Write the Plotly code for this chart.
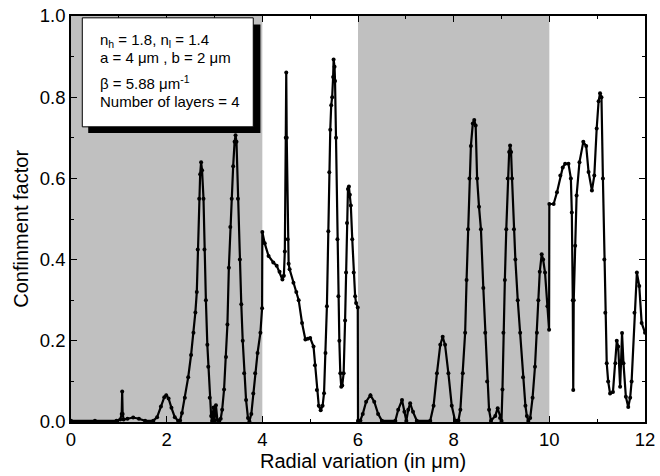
import plotly.graph_objects as go

# ---- data ----
radial_um = [
    0.00, 0.50, 0.95, 1.03, 1.06, 1.07, 1.08, 1.10, 1.18, 1.30, 1.42, 1.55, 1.72, 1.80, 1.88, 1.95,
    1.99, 2.04, 2.10, 2.17, 2.24, 2.28, 2.32, 2.38, 2.45, 2.51, 2.56, 2.60, 2.63, 2.65, 2.68, 2.70,
    2.72, 2.74, 2.77, 2.79, 2.82, 2.85, 2.87, 2.90, 2.93, 2.95, 2.98, 3.00, 3.03, 3.06, 3.10, 3.13,
    3.16, 3.20, 3.24, 3.27, 3.30, 3.33, 3.36, 3.39, 3.42, 3.44, 3.46, 3.49, 3.53, 3.56, 3.59, 3.62,
    3.66, 3.70, 3.73, 3.77, 3.81, 3.85, 3.90, 3.96, 3.995,
    4.00, 4.05, 4.13, 4.23, 4.30, 4.36, 4.42, 4.45, 4.47, 4.49, 4.50, 4.51, 4.53, 4.55, 4.57, 4.65,
    4.71, 4.76, 4.83, 4.90, 4.95, 5.00, 5.07, 5.10, 5.14, 5.18, 5.22, 5.26, 5.29, 5.32, 5.35, 5.38,
    5.40, 5.42, 5.44, 5.46, 5.48, 5.49, 5.51, 5.52, 5.54, 5.57, 5.59, 5.61, 5.63, 5.65, 5.67, 5.70,
    5.73, 5.75, 5.77, 5.79, 5.81, 5.83, 5.85, 5.88, 5.91, 5.94, 5.96, 5.995,
    6.00, 6.05, 6.10, 6.17, 6.26, 6.34, 6.42, 6.50, 6.78, 6.84, 6.92, 6.97, 7.01, 7.05, 7.09, 7.15,
    7.23, 7.51, 7.58, 7.65, 7.72, 7.77, 7.82, 7.89, 7.96, 8.03, 8.07, 8.10, 8.14, 8.19, 8.24, 8.27,
    8.30, 8.33, 8.36, 8.40, 8.43, 8.46, 8.49, 8.53, 8.57, 8.62, 8.66, 8.70, 8.74, 8.78, 8.87, 8.92,
    8.97, 9.00, 9.02, 9.04, 9.07, 9.10, 9.13, 9.16, 9.18, 9.20, 9.22, 9.26, 9.29, 9.34, 9.39, 9.45,
    9.50, 9.53, 9.56, 9.60, 9.65, 9.70, 9.74, 9.77, 9.80, 9.84, 9.87, 9.91, 9.96, 9.995,
    10.00, 10.09, 10.16, 10.23, 10.28, 10.33, 10.40, 10.45, 10.47, 10.49, 10.50, 10.51, 10.54, 10.57,
    10.63, 10.71, 10.77, 10.82, 10.89, 10.94, 10.99, 11.03, 11.06, 11.09, 11.12, 11.15, 11.17, 11.20,
    11.23, 11.27, 11.33, 11.38, 11.41, 11.44, 11.48, 11.50, 11.52, 11.55, 11.60, 11.65, 11.69, 11.72,
    11.78, 11.83, 11.88, 11.93, 12.00,
]
confinement = [
    0.003, 0.003, 0.003, 0.006, 0.020, 0.075, 0.020, 0.006, 0.008, 0.011, 0.008, 0.003, 0.003, 0.012, 0.038, 0.061,
    0.066, 0.058, 0.035, 0.012, 0.003, 0.004, 0.022, 0.060, 0.110, 0.165, 0.220, 0.270, 0.320, 0.425, 0.550, 0.610,
    0.640, 0.620, 0.550, 0.425, 0.300, 0.190, 0.136, 0.060, 0.015, 0.003, 0.036, 0.004, 0.041, 0.005, 0.003, 0.008,
    0.030, 0.080, 0.160, 0.240, 0.380, 0.480, 0.550, 0.630, 0.690, 0.706, 0.690, 0.550, 0.400, 0.290, 0.200, 0.120,
    0.054, 0.010, 0.002, 0.020, 0.070, 0.120, 0.170, 0.220, 0.280,
    0.468, 0.440, 0.409, 0.393, 0.385, 0.370, 0.351, 0.360, 0.420, 0.700, 0.861, 0.700, 0.450, 0.390, 0.376, 0.343,
    0.320, 0.300, 0.244, 0.203, 0.205, 0.207, 0.186, 0.140, 0.079, 0.040, 0.029, 0.040, 0.071, 0.170, 0.285, 0.470,
    0.615, 0.720, 0.780, 0.800, 0.850, 0.893, 0.875, 0.840, 0.700, 0.450, 0.310, 0.200, 0.120, 0.087, 0.090, 0.120,
    0.250, 0.368, 0.490, 0.574, 0.580, 0.560, 0.533, 0.450, 0.368, 0.310, 0.293, 0.282,
    0.003, 0.004, 0.020, 0.050, 0.066, 0.050, 0.020, 0.003, 0.003, 0.030, 0.054, 0.025, 0.003, 0.030, 0.046, 0.025,
    0.003, 0.003, 0.040, 0.120, 0.190, 0.210, 0.190, 0.120, 0.040, 0.003, 0.003, 0.004, 0.030, 0.120, 0.220, 0.350,
    0.475, 0.600, 0.680, 0.735, 0.744, 0.730, 0.600, 0.530, 0.475, 0.330, 0.220, 0.100, 0.030, 0.003, 0.015, 0.034,
    0.010, 0.003, 0.080, 0.220, 0.350, 0.475, 0.600, 0.665, 0.681, 0.665, 0.600, 0.475, 0.400, 0.300, 0.220, 0.110,
    0.040, 0.015, 0.003, 0.010, 0.060, 0.136, 0.220, 0.300, 0.370, 0.413, 0.400, 0.368, 0.285, 0.227,
    0.537, 0.537, 0.566, 0.607, 0.627, 0.636, 0.636, 0.600, 0.516, 0.300, 0.079, 0.300, 0.434, 0.558,
    0.640, 0.690, 0.680, 0.616, 0.570, 0.607, 0.723, 0.790, 0.810, 0.800, 0.600, 0.400, 0.269, 0.145,
    0.100, 0.070, 0.074, 0.145, 0.200, 0.186, 0.087, 0.150, 0.219, 0.145, 0.062, 0.037, 0.060, 0.100,
    0.269, 0.368, 0.335, 0.244, 0.220,
]

# shaded high-index layers (x ranges, in micrometres)
band_starts = [0, 6]
band_ends = [4, 10]

x_ticks = [0, 2, 4, 6, 8, 10, 12]
y_ticks = [0.0, 0.2, 0.4, 0.6, 0.8, 1.0]

x_title = "Radial variation (in μm)"
y_title = "Confinment factor"

legend_lines = [
    "n<sub>h</sub> = 1.8, n<sub>l</sub> = 1.4",
    "a = 4 μm , b = 2 μm",
    "β = 5.88 μm<sup>-1</sup>",
    "Number of layers = 4",
]

FONT = "Liberation Sans, Arial, sans-serif"

fig = go.Figure()

fig.add_trace(go.Scatter(
    x=radial_um, y=confinement, mode="lines+markers",
    line=dict(color="black", width=2.2),
    marker=dict(color="black", size=4, symbol="circle"),
    showlegend=False, hoverinfo="x+y",
))

shapes = []
for a, b in zip(band_starts, band_ends):
    shapes.append(dict(type="rect", xref="x", yref="y", x0=a, x1=b, y0=0, y1=1,
                       fillcolor="#c0c0c0", line=dict(width=0), layer="below"))
# legend box: black shadow then white box
shapes.append(dict(type="rect", xref="x", yref="y", x0=0.36, x1=3.96, y0=0.712, y1=0.979,
                   fillcolor="black", line=dict(width=0), layer="above"))
shapes.append(dict(type="rect", xref="x", yref="y", x0=0.236, x1=3.81, y0=0.727, y1=0.9955,
                   fillcolor="white", line=dict(color="black", width=1), layer="above"))

line_y = [0.940, 0.898, 0.836, 0.789]
annotations = []
for txt, yy in zip(legend_lines, line_y):
    annotations.append(dict(text=txt, xref="x", yref="y", x=0.57, y=yy, xanchor="left",
                            yanchor="middle", showarrow=False,
                            font=dict(family=FONT, size=15, color="black")))
# axis titles
annotations.append(dict(text=x_title, xref="paper", yref="paper", x=0.508, y=-0.095,
                        xanchor="center", yanchor="middle", showarrow=False,
                        font=dict(family=FONT, size=20, color="black")))
annotations.append(dict(text=y_title, xref="paper", yref="paper", x=-0.087, y=0.476,
                        xanchor="center", yanchor="middle", showarrow=False, textangle=-90,
                        font=dict(family=FONT, size=20, color="black")))

axis_common = dict(
    showline=True, linecolor="black", linewidth=1.5, mirror="ticks",
    ticks="inside", ticklen=6, tickwidth=1.2, tickcolor="black",
    showgrid=False, zeroline=False, automargin=False,
    tickfont=dict(family=FONT, size=18.5, color="black"),
)

fig.update_layout(
    width=660, height=476,
    margin=dict(l=71, r=15, t=16, b=54),
    paper_bgcolor="white", plot_bgcolor="white",
    shapes=shapes, annotations=annotations,
    xaxis=dict(range=[0, 12], tickvals=x_ticks,
               minor=dict(dtick=1, ticks="inside", ticklen=3, tickcolor="black", tickwidth=1),
               **axis_common),
    yaxis=dict(range=[0, 1], tickvals=y_ticks, tickformat=".1f",
               minor=dict(dtick=0.1, ticks="inside", ticklen=3, tickcolor="black", tickwidth=1),
               **axis_common),
)

fig.write_html("out.html", config={"displayModeBar": False},
               post_script="document.body.style.margin='0';document.body.style.overflow='hidden';")
